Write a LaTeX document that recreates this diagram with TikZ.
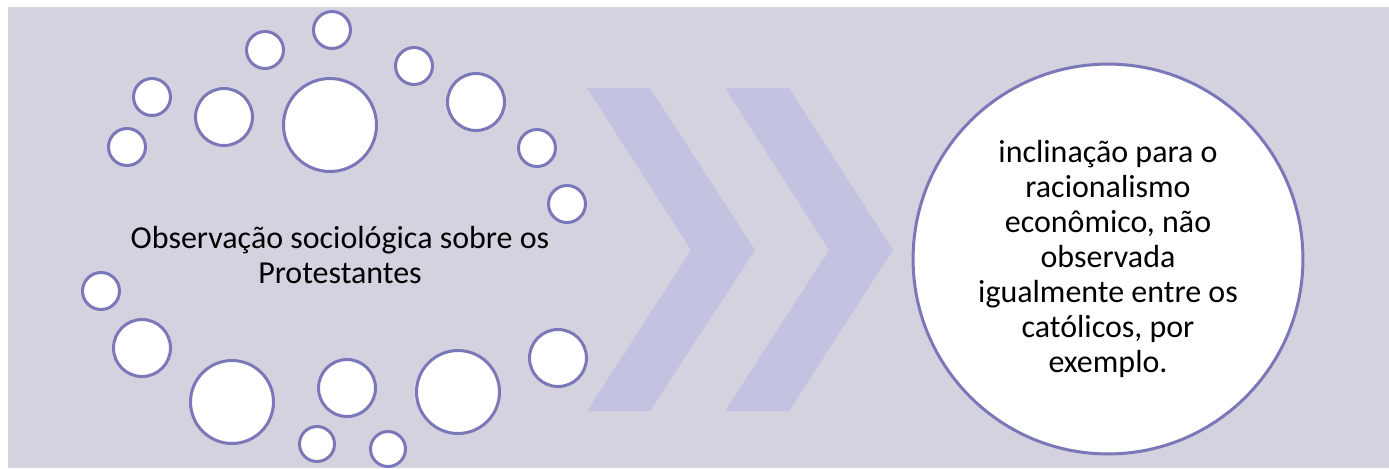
\documentclass[tikz,border=0pt]{standalone}
\usepackage{fontspec}
\setmainfont{Carlito}
\definecolor{bgcol}{RGB}{212,210,222}
\definecolor{chevcol}{RGB}{195,195,225}
\definecolor{ringcol}{RGB}{122,120,185}
\tikzset{
  bubble/.style={shape=circle, fill=white, draw=ringcol, line width=0.06cm, inner sep=0pt, minimum size={0.04cm*#1-0.06cm}},
  chevron/.style={fill=chevcol, draw=none},
  label text/.style={font=\fontsize{18.2}{19.9}\selectfont, align=center, text=black}
}
\begin{document}
\begin{tikzpicture}[x=0.02cm, y=-0.02cm]

            \useasboundingbox (0,0) rectangle (1389,468);
            \fill[bgcol] (8,7) rectangle (1389,468);

            \node[bubble=20] (B1) at (127,147) {};
            \node[bubble=20] (B2) at (152,97) {};
            \node[bubble=30] (B3) at (224,117) {};
            \node[bubble=20] (B4) at (265,50) {};
            \node[bubble=20] (B5) at (332,30) {};
            \node[bubble=48] (B6) at (330,125) {};
            \node[bubble=20] (B7) at (414,66) {};
            \node[bubble=30] (B8) at (476,102) {};
            \node[bubble=20] (B9) at (537,148) {};
            \node[bubble=20] (B10) at (567,204) {};
            \node[bubble=20] (B11) at (101,291) {};
            \node[bubble=30] (B12) at (142,348) {};
            \node[bubble=43] (B13) at (232,402) {};
            \node[bubble=30] (B14) at (347,388) {};
            \node[bubble=19] (B15) at (317,444) {};
            \node[bubble=19] (B16) at (388,449) {};
            \node[bubble=43] (B17) at (458,392) {};
            \node[bubble=30] (B18) at (558,358) {};

            \node[label text] (T) at (340,255) {Observação sociológica sobre os\\Protestantes};

            \fill[chevron] (587,88) -- (650,88) -- (755,250) -- (650,411) -- (587,411) -- (691,250) -- cycle;
            \fill[chevron] (725,88) -- (789,88) -- (893,250) -- (789,411) -- (725,411) -- (829,250) -- cycle;

            \node[bubble=196.5, label text] (R) at (1108,259) {inclinação para o\\racionalismo\\econômico, não\\observada\\igualmente entre os\\católicos, por\\exemplo.};
        \end{tikzpicture}
\end{document}
